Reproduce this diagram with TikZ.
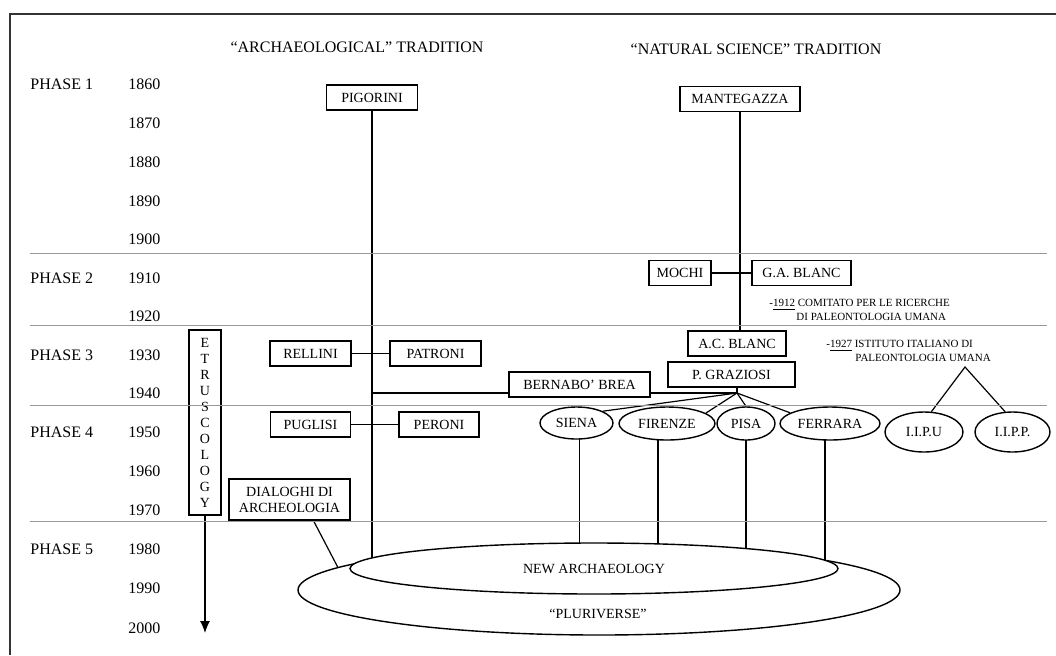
\documentclass[tikz,border=0pt]{standalone}
\usepackage{fontspec}
\setmainfont{Liberation Serif}
\usepackage{tikz}
\usetikzlibrary{shapes.geometric,arrows.meta,backgrounds}

\begin{document}
\begin{tikzpicture}[x=0.5pt, y=-0.5pt,
    box/.style = {draw, line width=0.7pt, fill=white, font=\fontsize{7}{8}\selectfont, minimum height=12.5pt, inner sep=1pt},
    oval/.style = {draw, ellipse, line width=0.7pt, fill=white, font=\fontsize{7}{8}\selectfont, inner sep=0pt},
    lbl/.style = {font=\fontsize{8}{9}\selectfont, anchor=west, inner sep=0pt},
    note/.style = {font=\fontsize{5.5}{7}\selectfont, anchor=west, align=left, inner sep=0pt},
    link/.style = {line width=0.6pt},
    phaseline/.style = {gray!80, line width=0.5pt}]
    \useasboundingbox (0,0) rectangle (1056,655);
    \draw [line width=1pt, black!80] (10,655) -- (10,14) -- (1056,14);

    \node [font=\fontsize{8}{9}\selectfont] (archhead) at (357, 47) {“ARCHAEOLOGICAL” TRADITION};
    \node [font=\fontsize{8}{9}\selectfont] (scihead) at (756, 49) {“NATURAL SCIENCE” TRADITION};

    \node [lbl] (ph1) at (30, 84) {PHASE 1};
    \node [lbl] (ph2) at (30, 278) {PHASE 2};
    \node [lbl] (ph3) at (30, 355) {PHASE 3};
    \node [lbl] (ph4) at (30, 432) {PHASE 4};
    \node [lbl] (ph5) at (30, 549) {PHASE 5};

    \node [lbl] (y1860) at (128, 84) {1860};
    \node [lbl] (y1870) at (128, 123) {1870};
    \node [lbl] (y1880) at (128, 162) {1880};
    \node [lbl] (y1890) at (128, 201) {1890};
    \node [lbl] (y1900) at (128, 239) {1900};
    \node [lbl] (y1910) at (128, 278) {1910};
    \node [lbl] (y1920) at (128, 316) {1920};
    \node [lbl] (y1930) at (128, 355) {1930};
    \node [lbl] (y1940) at (128, 393) {1940};
    \node [lbl] (y1950) at (128, 432) {1950};
    \node [lbl] (y1960) at (128, 471) {1960};
    \node [lbl] (y1970) at (128, 510) {1970};
    \node [lbl] (y1980) at (128, 549) {1980};
    \node [lbl] (y1990) at (128, 588) {1990};
    \node [lbl] (y2000) at (128, 628) {2000};

    % archaeological side
    \node [box, minimum width=45.5pt] (pigorini) at (372, 97.5) {PIGORINI};
    \node [box, minimum width=40.5pt] (rellini) at (310.5, 353.5) {RELLINI};
    \node [box, minimum width=45.5pt] (patroni) at (435.5, 353.5) {PATRONI};
    \node [box, minimum width=40pt] (puglisi) at (310.5, 424.5) {PUGLISI};
    \node [box, minimum width=40pt] (peroni) at (439, 424.5) {PERONI};
    \node [box, minimum width=70.5pt] (bernabo) at (579.5, 384.5) {BERNABO' BREA};
    \node [box, minimum width=60.5pt, minimum height=20.5pt, align=center] (dialoghi) at (289.5, 499.5) {DIALOGHI DI\\ARCHEOLOGIA};
    \node [box, minimum width=16pt, minimum height=92.5pt, align=center] (etrusco) at (205, 422.5) {E\\T\\R\\U\\S\\C\\O\\L\\O\\G\\Y};
    \coordinate (etend) at (205, 633);

    % natural science side
    \node [box, minimum width=60pt] (mantegazza) at (740, 99) {MANTEGAZZA};
    \node [box, minimum width=31pt] (mochi) at (680, 273) {MOCHI};
    \node [box, minimum width=49.5pt] (gablanc) at (801.5, 273) {G.A. BLANC};
    \node [box, minimum width=49pt] (acblanc) at (737, 343.5) {A.C. BLANC};
    \node [box, minimum width=63.5pt] (pgraziosi) at (731.5, 374.5) {P. GRAZIOSI};
    \coordinate (hub) at (737, 393);

    \node [note] (comitato) at (769, 310) {-\underline{1912} COMITATO PER LE RICERCHE\\\hspace*{13.5pt}DI PALEONTOLOGIA UMANA};
    \node [note] (istituto) at (826, 351) {-\underline{1927} ISTITUTO ITALIANO DI\\\hspace*{14.5pt}PALEONTOLOGIA UMANA};
    \coordinate (iitop) at (965, 367);

    \node [oval, minimum width=36.5pt, minimum height=16pt] (siena) at (576.5, 423) {SIENA};
    \node [oval, minimum width=48pt, minimum height=16.5pt] (firenze) at (667, 423.5) {FIRENZE};
    \node [oval, minimum width=29pt, minimum height=16.5pt] (pisa) at (746, 423.5) {PISA};
    \node [oval, minimum width=50pt, minimum height=16.5pt] (ferrara) at (830, 423.5) {FERRARA};
    \node [oval, minimum width=39pt, minimum height=20pt] (iipu) at (924, 432) {I.I.P.U};
    \node [oval, minimum width=37.5pt, minimum height=20pt] (iipp) at (1012.5, 432) {I.I.P.P.};

    \node [oval, minimum width=301pt, minimum height=45pt] (pluri) at (599, 590) {};
    \node [oval, minimum width=244pt, minimum height=25.5pt] (newarch) at (594, 568.5) {NEW ARCHAEOLOGY};
    \node [font=\fontsize{7}{8}\selectfont] (pluritext) at (598, 614) {“PLURIVERSE”};

    \begin{pgfonlayer}{background}
        \draw [link] (pigorini.south) -- (pigorini.south |- newarch.south);
        \draw [link] (mantegazza.south) -- (mantegazza.south |- acblanc.north);
        \draw [link] (mochi) -- (gablanc);
        \draw [link] (rellini) -- (patroni);
        \draw [link] (puglisi) -- (peroni);
        \draw [link] (pigorini |- hub) -- (hub);
        \draw [link] (pgraziosi.south -| hub) -- (hub);
        \draw [link] (hub) -- (siena.north east);
        \draw [link] (hub) -- (firenze.15);
        \draw [link] (hub) -- (pisa.north);
        \draw [link] (hub) -- (ferrara.165);
        \draw [link] ([xshift=1.5pt]siena.center) -- ([xshift=1.5pt]siena.center |- newarch.south);
        \draw [link] ([xshift=-4.5pt]firenze.center) -- ([xshift=-4.5pt]firenze.center |- newarch.south);
        \draw [link] (pisa.center) -- (pisa.center |- newarch.south);
        \draw [link] ([xshift=-2.5pt]ferrara.center) -- ([xshift=-2.5pt]ferrara.center |- newarch.south);
        \draw [link] (iipu.70) -- (iitop) -- (iipp.110);
        \draw [link] ([xshift=12pt]dialoghi.south) -- (pluri.175);
    \end{pgfonlayer}
    \draw [link, -{Latex[length=6pt, width=5pt]}] (etrusco.south) -- (etend);

    \draw [phaseline] (30, 253) -- (1047, 253);
    \draw [phaseline] (30, 325) -- (1047, 325);
    \draw [phaseline] (30, 405) -- (1047, 405);
    \draw [phaseline] (30, 521) -- (1047, 521);
\end{tikzpicture}
\end{document}
